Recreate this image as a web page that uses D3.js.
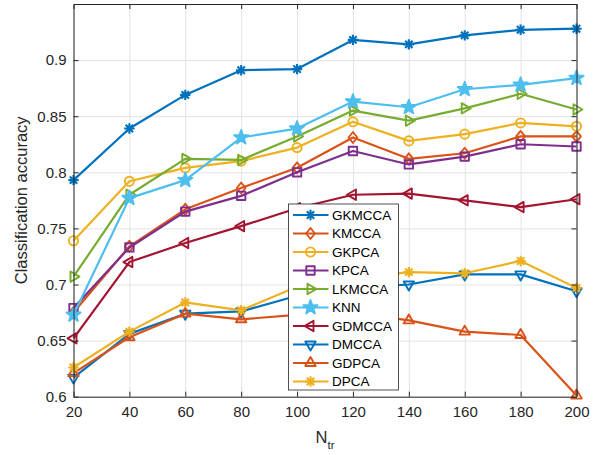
<!DOCTYPE html>
<html>
<head>
<meta charset="utf-8">
<script src="https://cdn.jsdelivr.net/npm/d3@7/dist/d3.min.js"></script>
<style>
  body { margin: 0; background: #fff; }
  svg { display: block; font-family: "Liberation Sans", Arial, Helvetica, sans-serif; }
</style>
</head>
<body>
<div id="chart"></div>
<script>
// x positions (number of training samples)
const nTr = [20, 40, 60, 80, 100, 120, 140, 160, 180, 200];
const xTicks = [20, 40, 60, 80, 100, 120, 140, 160, 180, 200];
const yTicks = [0.6, 0.65, 0.7, 0.75, 0.8, 0.85, 0.9];

// classification accuracy per method
const gkmcca = [0.793, 0.839, 0.869, 0.891, 0.892, 0.918, 0.914, 0.922, 0.927, 0.928];
const kmcca  = [0.675, 0.734, 0.767, 0.786, 0.804, 0.831, 0.812, 0.817, 0.832, 0.832];
const gkpca  = [0.739, 0.792, 0.804, 0.810, 0.822, 0.845, 0.828, 0.834, 0.844, 0.841];
const kpca   = [0.679, 0.733, 0.765, 0.779, 0.800, 0.819, 0.807, 0.814, 0.825, 0.823];
const lkmcca = [0.707, 0.780, 0.812, 0.811, 0.832, 0.855, 0.846, 0.857, 0.870, 0.856];
const knn    = [0.673, 0.777, 0.793, 0.831, 0.839, 0.863, 0.858, 0.874, 0.878, 0.884];
const gdmcca = [0.652, 0.720, 0.737, 0.752, 0.768, 0.780, 0.781, 0.775, 0.769, 0.776];
const dmcca  = [0.617, 0.656, 0.674, 0.676, 0.690, 0.697, 0.700, 0.709, 0.709, 0.694];
const gdpca  = [0.621, 0.653, 0.674, 0.669, 0.673, 0.675, 0.668, 0.658, 0.655, 0.601];
const dpca   = [0.626, 0.658, 0.684, 0.677, 0.698, 0.705, 0.711, 0.710, 0.721, 0.697];

const seriesNames = ['GKMCCA', 'KMCCA', 'GKPCA', 'KPCA', 'LKMCCA', 'KNN', 'GDMCCA', 'DMCCA', 'GDPCA', 'DPCA'];
const seriesValues = [gkmcca, kmcca, gkpca, kpca, lkmcca, knn, gdmcca, dmcca, gdpca, dpca];
const seriesColors = ['#0072BD', '#D95319', '#EDB120', '#7E2F8E', '#77AC30', '#4DBEEE', '#A2142F', '#0072BD', '#D95319', '#EDB120'];
const seriesMarkers = ['asterisk', 'diamond', 'circle', 'square', 'triRight', 'star', 'triLeft', 'triDown', 'triUp', 'asterisk'];

const width = 600, height = 455;
const margin = { top: 4, right: 23.5, bottom: 58.3, left: 73.5 };
const axisColor = '#262626';

const svg = d3.select('#chart').append('svg')
  .attr('width', width)
  .attr('height', height);

const x = d3.scaleLinear().domain([20, 200]).range([margin.left, width - margin.right]);
const y = d3.scaleLinear().domain([0.6, 0.95]).range([height - margin.bottom, margin.top]);

const plotW = width - margin.left - margin.right;
const plotH = height - margin.top - margin.bottom;

/**
 * Marker path for a MATLAB-like marker shape, centred on 0,0
 */
function markerPath(shape) {
  const p = d3.path();
  if (shape === 'asterisk') {
    const r = 5.2, a = 3.7;
    p.moveTo(-r, 0); p.lineTo(r, 0);
    p.moveTo(0, -r); p.lineTo(0, r);
    p.moveTo(-a, -a); p.lineTo(a, a);
    p.moveTo(-a, a); p.lineTo(a, -a);
  } else if (shape === 'diamond') {
    const r = 5.5;
    p.moveTo(0, -r); p.lineTo(r * 0.8, 0); p.lineTo(0, r); p.lineTo(-r * 0.8, 0); p.closePath();
  } else if (shape === 'circle') {
    p.arc(0, 0, 4.6, 0, 2 * Math.PI);
  } else if (shape === 'square') {
    const r = 4.2;
    p.rect(-r, -r, 2 * r, 2 * r);
  } else if (shape === 'star') {
    const ro = 7.5, ri = 3;
    for (let i = 0; i < 10; i++) {
      const ang = -Math.PI / 2 + i * Math.PI / 5;
      const r = i % 2 === 0 ? ro : ri;
      if (i === 0) p.moveTo(r * Math.cos(ang), r * Math.sin(ang));
      else p.lineTo(r * Math.cos(ang), r * Math.sin(ang));
    }
    p.closePath();
  } else {
    // triangles: tip direction in degrees
    const dir = { triRight: 0, triDown: 90, triLeft: 180, triUp: 270 }[shape];
    const r = 6;
    [0, 120, 240].forEach((d, i) => {
      const ang = (dir + d) * Math.PI / 180;
      if (i === 0) p.moveTo(r * Math.cos(ang), r * Math.sin(ang));
      else p.lineTo(r * Math.cos(ang), r * Math.sin(ang));
    });
    p.closePath();
  }
  return p.toString();
}

// asterisks look a bit heavier in the original
const markerStroke = shape => shape === 'asterisk' ? 2.1 : 1.9;

// grid lines
svg.append('g')
  .attr('transform', `translate(0, ${margin.top})`)
  .call(d3.axisBottom(x).tickValues(xTicks).tickSize(plotH).tickFormat(''))
  .call(g => g.select('.domain').remove())
  .call(g => g.selectAll('line').attr('stroke', '#e3e3e3').attr('stroke-width', 1));

svg.append('g')
  .attr('transform', `translate(${margin.left}, 0)`)
  .call(d3.axisRight(y).tickValues(yTicks).tickSize(plotW).tickFormat(''))
  .call(g => g.select('.domain').remove())
  .call(g => g.selectAll('line').attr('stroke', '#e3e3e3').attr('stroke-width', 1));

// series lines and markers
const line = d3.line()
  .x((d, i) => x(nTr[i]))
  .y(d => y(d));

seriesValues.forEach((vals, k) => {
  const g = svg.append('g');
  g.append('path')
    .attr('d', line(vals))
    .attr('fill', 'none')
    .attr('stroke', seriesColors[k])
    .attr('stroke-width', 2.2)
    .attr('stroke-linejoin', 'round');
  g.selectAll('path.mk')
    .data(vals)
    .enter()
    .append('path')
    .attr('class', 'mk')
    .attr('transform', (d, i) => `translate(${x(nTr[i])}, ${y(d)})`)
    .attr('d', markerPath(seriesMarkers[k]))
    .attr('fill', seriesMarkers[k] === 'star' ? seriesColors[k] : 'none')
    .attr('stroke', seriesColors[k])
    .attr('stroke-width', markerStroke(seriesMarkers[k]))
    .attr('stroke-linejoin', 'round');
});

// axes (MATLAB style, inward ticks, box on)
const styleAxis = g => {
  g.select('.domain').attr('stroke', axisColor).attr('stroke-width', 1);
  g.selectAll('line').attr('stroke', axisColor);
  g.selectAll('text').attr('fill', axisColor).style('font-size', '15px');
};

svg.append('g')
  .attr('transform', `translate(0, ${height - margin.bottom})`)
  .call(d3.axisBottom(x).tickValues(xTicks).tickSizeInner(-5).tickSizeOuter(0).tickPadding(10))
  .call(styleAxis);

svg.append('g')
  .attr('transform', `translate(0, ${margin.top})`)
  .call(d3.axisTop(x).tickValues(xTicks).tickSizeInner(-5).tickSizeOuter(0).tickFormat(''))
  .call(styleAxis);

svg.append('g')
  .attr('transform', `translate(${margin.left}, 0)`)
  .call(d3.axisLeft(y).tickValues(yTicks).tickSizeInner(-5).tickSizeOuter(0).tickPadding(7).tickFormat(d3.format('')))
  .call(styleAxis);

svg.append('g')
  .attr('transform', `translate(${width - margin.right}, 0)`)
  .call(d3.axisRight(y).tickValues(yTicks).tickSizeInner(-5).tickSizeOuter(0).tickFormat(''))
  .call(styleAxis);

// axis labels
svg.append('text')
  .attr('transform', `translate(27, ${margin.top + plotH / 2}) rotate(-90)`)
  .attr('text-anchor', 'middle')
  .attr('fill', axisColor)
  .style('font-size', '16.5px')
  .text('Classification accuracy');

const xl = svg.append('text')
  .attr('x', margin.left + plotW / 2)
  .attr('y', 443)
  .attr('text-anchor', 'middle')
  .attr('fill', axisColor)
  .style('font-size', '16.5px');
xl.append('tspan').text('N');
xl.append('tspan').attr('dy', 6).style('font-size', '11.5px').text('tr');

// legend
const legend = svg.append('g').attr('transform', 'translate(288.5, 204)');
legend.append('rect')
  .attr('width', 110)
  .attr('height', 186)
  .attr('fill', '#fff')
  .attr('stroke', axisColor)
  .attr('stroke-width', 0.8);

seriesNames.forEach((name, k) => {
  const row = legend.append('g').attr('transform', `translate(0, ${11 + k * 18.5})`);
  row.append('line')
    .attr('x1', 4.5).attr('x2', 40)
    .attr('stroke', seriesColors[k])
    .attr('stroke-width', 2.2);
  row.append('path')
    .attr('transform', 'translate(22, 0)')
    .attr('d', markerPath(seriesMarkers[k]))
    .attr('fill', seriesMarkers[k] === 'star' ? seriesColors[k] : 'none')
    .attr('stroke', seriesColors[k])
    .attr('stroke-width', markerStroke(seriesMarkers[k]))
    .attr('stroke-linejoin', 'round');
  row.append('text')
    .attr('x', 43.5)
    .attr('dy', '0.36em')
    .attr('fill', '#000')
    .style('font-size', '13.5px')
    .text(name);
});
</script>
</body>
</html>
